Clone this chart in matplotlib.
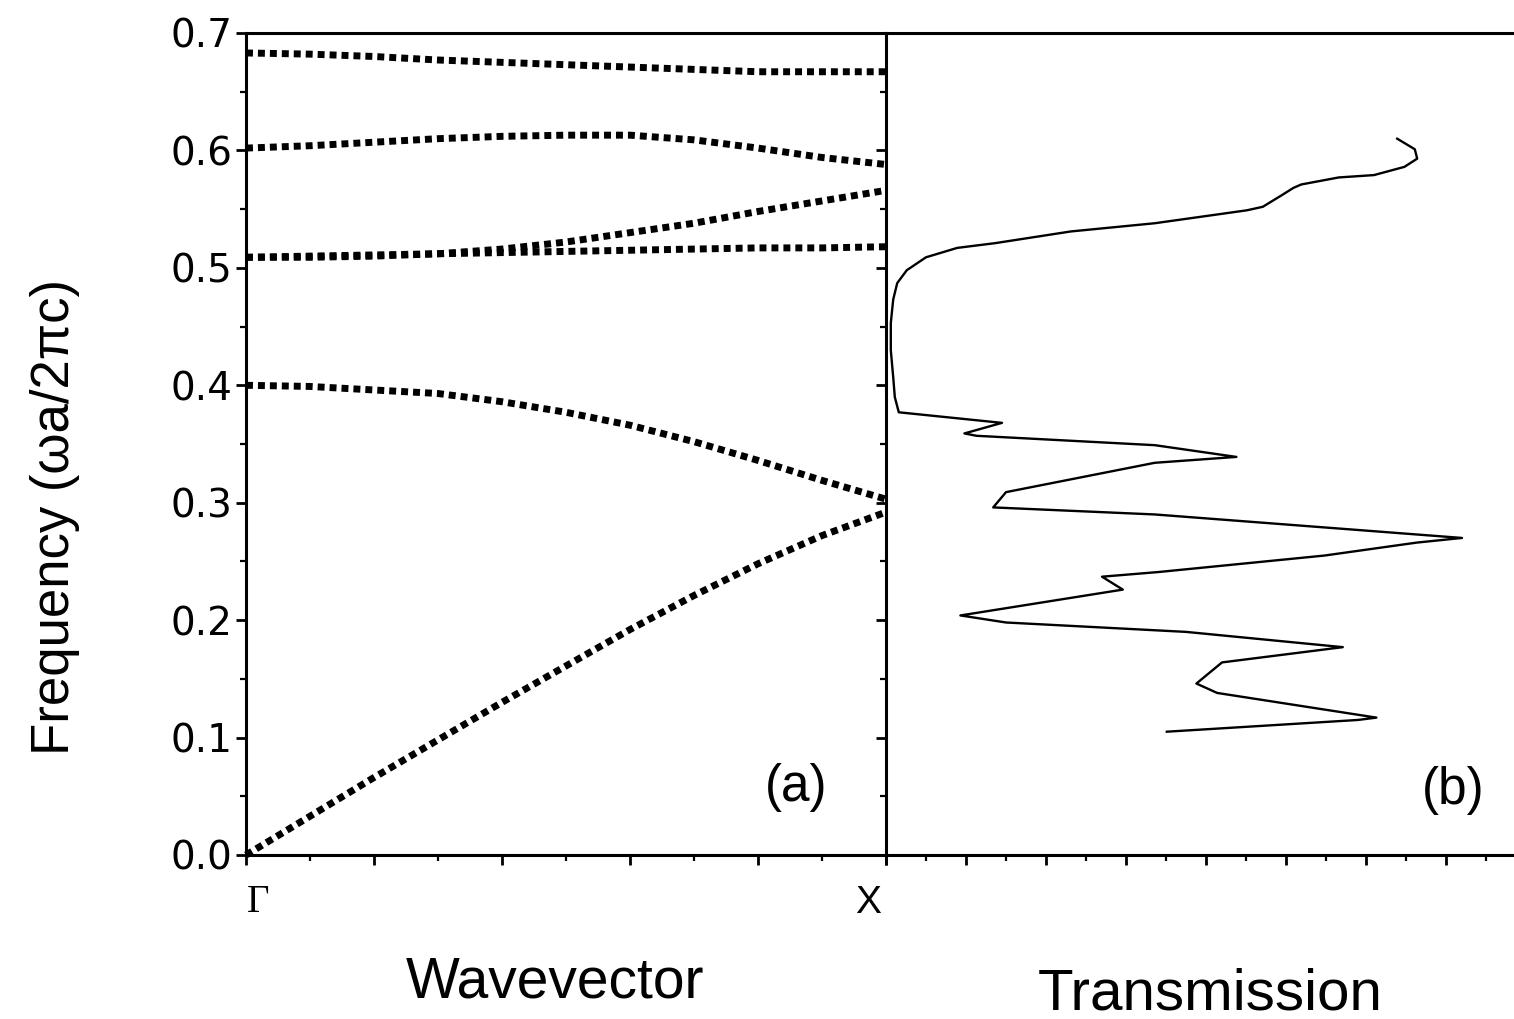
import matplotlib
matplotlib.use("Agg")
import matplotlib.pyplot as plt
from matplotlib.ticker import MultipleLocator, NullFormatter
import matplotlib.transforms as mtransforms

plt.rcParams['font.family'] = ['Liberation Sans', 'DejaVu Sans']

# ---- data: band structure (wavevector Gamma -> X, normalised 0..1) ----
k = [0.0, 0.1, 0.2, 0.3, 0.4, 0.5, 0.6, 0.7, 0.8, 0.9, 1.0]
band1 = [0.000, 0.033, 0.066, 0.098, 0.130, 0.161, 0.192, 0.221, 0.248, 0.272, 0.292]
band2 = [0.400, 0.399, 0.396, 0.393, 0.386, 0.377, 0.366, 0.352, 0.336, 0.319, 0.303]
band3 = [0.509, 0.510, 0.511, 0.512, 0.513, 0.514, 0.515, 0.516, 0.517, 0.517, 0.518]
band4 = [0.509, 0.509, 0.510, 0.512, 0.516, 0.522, 0.530, 0.538, 0.548, 0.557, 0.566]
band5 = [0.602, 0.604, 0.607, 0.610, 0.612, 0.613, 0.613, 0.609, 0.602, 0.594, 0.588]
band6 = [0.683, 0.682, 0.680, 0.677, 0.675, 0.673, 0.671, 0.669, 0.667, 0.667, 0.667]
bands = [band1, band2, band3, band4, band5, band6]

# ---- data: transmission spectrum ----
trans = [0.639, 0.661, 0.664, 0.648, 0.610, 0.566, 0.519, 0.509, 0.495, 0.471,
         0.451, 0.336, 0.231, 0.136, 0.089, 0.050, 0.026, 0.014, 0.009, 0.006,
         0.006, 0.009, 0.011, 0.016, 0.145, 0.098, 0.113, 0.336, 0.438, 0.336,
         0.150, 0.134, 0.336, 0.720, 0.663, 0.548, 0.341, 0.270, 0.296, 0.093,
         0.150, 0.375, 0.571, 0.420, 0.388, 0.414, 0.613, 0.590, 0.351]
freq_t = [0.610, 0.601, 0.593, 0.586, 0.579, 0.577, 0.571, 0.568, 0.562, 0.552,
          0.549, 0.538, 0.531, 0.521, 0.517, 0.509, 0.498, 0.487, 0.473, 0.453,
          0.430, 0.407, 0.390, 0.377, 0.368, 0.359, 0.357, 0.349, 0.339, 0.334,
          0.309, 0.296, 0.290, 0.270, 0.266, 0.255, 0.241, 0.237, 0.226, 0.204,
          0.198, 0.190, 0.177, 0.164, 0.146, 0.138, 0.117, 0.115, 0.105]

W, H = 1514, 1019
fig = plt.figure(figsize=(W / 100, H / 100), dpi=100)

x0, x1, x2 = 246, 886, 1526
ytop, ybot = 33, 855
axL = fig.add_axes([x0 / W, 1 - ybot / H, (x1 - x0) / W, (ybot - ytop) / H])
axR = fig.add_axes([x1 / W, 1 - ybot / H, (x2 - x1) / W, (ybot - ytop) / H])

for b in bands:
    axL.plot(k, b, color='black', lw=5.0, linestyle=(0, (1, 0.72)),
             dash_capstyle='butt', clip_on=False)

axL.set_xlim(0, 1)
axL.set_ylim(0, 0.7)
axL.yaxis.set_major_locator(MultipleLocator(0.1))
axL.yaxis.set_minor_locator(MultipleLocator(0.05))
axL.xaxis.set_major_locator(MultipleLocator(0.2))
axL.xaxis.set_minor_locator(MultipleLocator(0.1))
axL.xaxis.set_major_formatter(NullFormatter())
yt = [0.0, 0.1, 0.2, 0.3, 0.4, 0.5, 0.6, 0.7]
axL.set_yticks(yt)
axL.set_yticklabels([f"{v:.1f}" for v in yt], fontfamily='DejaVu Sans', fontsize=28)
axL.spines['right'].set_visible(False)

axR.plot(trans, freq_t, color='black', lw=1.7)
axR.set_xlim(0, 0.8)
axR.set_ylim(0, 0.7)
axR.xaxis.set_major_locator(MultipleLocator(0.1))
axR.xaxis.set_minor_locator(MultipleLocator(0.05))
axR.yaxis.set_major_locator(MultipleLocator(0.1))
axR.yaxis.set_minor_locator(MultipleLocator(0.05))
axR.xaxis.set_major_formatter(NullFormatter())
axR.yaxis.set_major_formatter(NullFormatter())
axR.spines['right'].set_visible(False)

for ax in (axL, axR):
    for s in ax.spines.values():
        s.set_linewidth(2.2)
    ax.tick_params(which='major', direction='out', length=7, width=2, pad=3)
    ax.tick_params(which='minor', direction='out', length=4.5, width=1.6)
    ax.tick_params(top=False, right=False, which='both')

# Gamma / X labels
trans_blend = mtransforms.blended_transform_factory(axL.transData, fig.transFigure)
axL.text(0.019, 1 - 903 / H, 'Γ', transform=trans_blend, ha='center', va='center',
         fontsize=28, family=['Liberation Serif', 'DejaVu Serif'])
axL.text(0.972, 1 - 903 / H, 'X', transform=trans_blend, ha='center', va='center',
         fontsize=28)

axL.text(0.859, 0.082, '(a)', transform=axL.transAxes, ha='center', va='center', fontsize=37)
axR.text(0.886, 0.079, '(b)', transform=axR.transAxes, ha='center', va='center', fontsize=37)

fig.text(555 / W, 1 - 983 / H, 'Wavevector', ha='center', va='center', fontsize=41)
fig.text(1210 / W, 1 - 995 / H, 'Transmission', ha='center', va='center', fontsize=42)
fig.text(55 / W, 1 - 517 / H, 'Frequency (ωa/2πc)', rotation=90, ha='center',
         va='center', fontsize=38)

fig.savefig('out.png', dpi=100)
